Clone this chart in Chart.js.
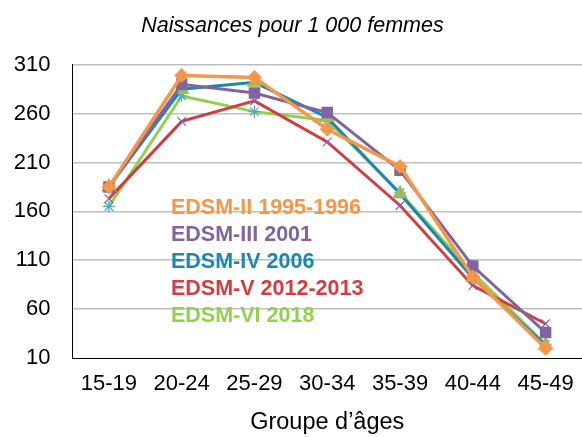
<!DOCTYPE html>
<html>
<head>
<meta charset="utf-8">
<script src="https://cdn.jsdelivr.net/npm/chart.js@4.4.1/dist/chart.umd.min.js"></script>
<style>
  html, body { margin: 0; padding: 0; background: #fff; }
  #wrap { width: 582px; height: 437px; position: relative; }
</style>
</head>
<body>
<div id="wrap"><canvas id="fertChart"></canvas></div>
<script>
// Age groups and rates (births per 1 000 women)
const ageGroups = ['15-19', '20-24', '25-29', '30-34', '35-39', '40-44', '45-49'];
const edsm2 = [185, 299, 297, 244, 206, 93, 20];
const edsm3 = [185, 290, 281, 261, 202, 104, 36];
const edsm4 = [185, 285, 292, 256, 178, 92, 23];
const edsm5 = [173, 252, 273, 231, 166, 84, 45];
const edsm6 = [165, 278, 262, 253, 179, 97, 24];
const yTicks = [10, 60, 110, 160, 210, 260, 310];

const FONT = "'Liberation Sans', Arial, sans-serif";

// legend text written inside the plot, like the original
const inlineLegend = {
    id: 'inlineLegend',
    afterDraw(chart) {
        const ctx = chart.ctx;
        ctx.save();
        ctx.font = 'bold 21.5px ' + FONT;
        ctx.textBaseline = 'middle';
        ctx.textAlign = 'left';
        chart.data.datasets.forEach((ds, i) => {
            ctx.fillStyle = ds.textColor;
            ctx.fillText(ds.label, 171, 208 + i * 27);
        });
        ctx.restore();
    }
};

const ctx = document.getElementById('fertChart');
new Chart(ctx, {
    type: 'line',
    data: {
        labels: ageGroups,
        datasets: [
            {
                label: 'EDSM-II 1995-1996', data: edsm2,
                borderColor: '#F79646', textColor: '#F79646', borderWidth: 3.5,
                pointStyle: 'rectRot', pointRadius: 5,
                pointBackgroundColor: '#F79646', pointBorderColor: '#F79646'
            },
            {
                label: 'EDSM-III 2001', data: edsm3,
                borderColor: '#8064A2', textColor: '#8064A2', borderWidth: 3,
                pointStyle: 'rect', pointRadius: 6,
                pointBackgroundColor: '#8064A2', pointBorderColor: '#8064A2'
            },
            {
                label: 'EDSM-IV 2006', data: edsm4,
                borderColor: '#1A87B3', textColor: '#1A87B3', borderWidth: 3,
                pointStyle: 'triangle', pointRadius: 6,
                pointBackgroundColor: '#9BBB59', pointBorderColor: '#9BBB59'
            },
            {
                label: 'EDSM-V 2012-2013', data: edsm5,
                borderColor: '#D43D3F', textColor: '#D43D3F', borderWidth: 3,
                pointStyle: 'crossRot', pointRadius: 6, pointBorderWidth: 1.2,
                pointBackgroundColor: '#8064A2', pointBorderColor: '#8064A2'
            },
            {
                label: 'EDSM-VI 2018', data: edsm6,
                borderColor: '#92D050', textColor: '#92D050', borderWidth: 3,
                pointStyle: 'star', pointRadius: 6, pointBorderWidth: 1.2,
                pointBackgroundColor: '#4BACC6', pointBorderColor: '#4BACC6'
            }
        ]
    },
    options: {
        responsive: true,
        maintainAspectRatio: false,
        animation: false,
        layout: { autoPadding: false, padding: { top: 0, right: -3, bottom: 0, left: 0 } },
        elements: { line: { tension: 0 } },
        plugins: {
            legend: { display: false },
            tooltip: { enabled: false },
            title: {
                display: true,
                text: 'Naissances pour 1 000 femmes',
                color: '#000',
                font: { family: FONT, size: 21.5, style: 'italic', weight: 'normal' },
                padding: { top: 13, bottom: 25.9 }
            }
        },
        scales: {
            x: {
                offset: true,
                grid: { display: true, drawOnChartArea: false, drawTicks: true,
                        tickLength: 13, tickColor: 'rgba(0,0,0,0)', color: 'rgba(0,0,0,0)' },
                border: { display: true, color: '#000', width: 1 },
                ticks: { color: '#000', padding: 0, maxRotation: 0, autoSkip: false,
                         font: { family: FONT, size: 22 } },
                title: { display: true, text: 'Groupe d\u2019âges', color: '#000',
                         padding: { top: 0, bottom: 0 },
                         font: { family: FONT, size: 23.5 } },
                afterFit(scale) {
                    scale.height = 79;
                    scale.paddingLeft = 0;
                    scale.paddingRight = 0;
                }
            },
            y: {
                min: 10, max: 310,
                afterBuildTicks(scale) { scale.ticks = yTicks.map(v => ({ value: v })); },
                grid: {
                    drawTicks: false, lineWidth: 1.5,
                    color: ctx => ctx.tick && ctx.tick.value === 10 ? 'rgba(0,0,0,0)' : '#BFBFBF'
                },
                border: { display: true, color: '#000', width: 1 },
                ticks: { color: '#000', padding: 22, font: { family: FONT, size: 22 } },
                afterFit(scale) { scale.width = 72.5; }
            }
        }
    },
    plugins: [inlineLegend]
});
</script>
</body>
</html>
